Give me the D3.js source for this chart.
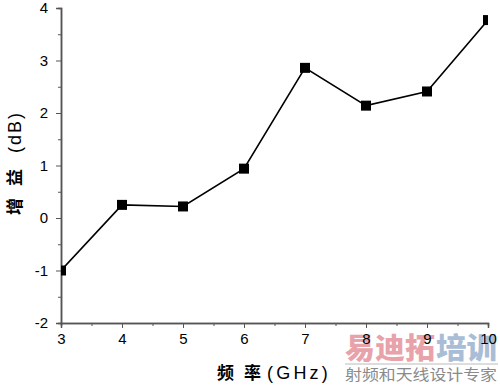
<!DOCTYPE html>
<html><head><meta charset="utf-8">
<script src="https://cdn.jsdelivr.net/npm/d3@7"></script>
<style>body{margin:0;background:#fff}svg{display:block}</style>
</head><body>
<svg id="c" width="500" height="386"></svg>
<script>
const freq = [3, 4, 5, 6, 7, 8, 9, 10];
const gain = [-1.0, 0.25, 0.22, 0.94, 2.86, 2.14, 2.41, 3.77];
const xTicks = [3, 4, 5, 6, 7, 8, 9, 10];
const yTicks = [-2, -1, 0, 1, 2, 3, 4];

const svg = d3.select("#c");
const L = 61, R = 488, T = 8, B = 323;
const x = d3.scaleLinear().domain([3, 10]).range([L, R]);
const y = d3.scaleLinear().domain([-2, 4]).range([B, T]);
const axisColor = "#555";
const font = "'Liberation Sans', Arial, sans-serif";
const cjk = "'Noto Sans CJK SC', sans-serif";
const fmt = d => String(d);

svg.append("defs").append("clipPath").attr("id", "clip")
  .append("rect").attr("x", L).attr("y", 0).attr("width", R - L).attr("height", B);

// watermark (behind everything)
const wm = svg.append("g");
wm.append("text").attr("x", 345).attr("y", 359).attr("textLength", 90).attr("lengthAdjust", "spacingAndGlyphs")
  .style("font-family", cjk).style("font-weight", "900").style("font-size", "29px")
  .attr("fill", "#e8a3aa").text("易迪拓");
wm.append("text").attr("x", 436).attr("y", 359).attr("textLength", 61).attr("lengthAdjust", "spacingAndGlyphs")
  .style("font-family", cjk).style("font-weight", "900").style("font-size", "29px")
  .attr("fill", "#a9bdd6").text("培训");
wm.append("line").attr("x1", 345).attr("x2", 498).attr("y1", 364).attr("y2", 364)
  .attr("stroke", "#bbb").attr("stroke-width", 1);
wm.append("text").attr("x", 345).attr("y", 380).attr("textLength", 152).attr("lengthAdjust", "spacingAndGlyphs")
  .style("font-family", cjk).style("font-size", "15px")
  .attr("fill", "#8a8a8a").text("射频和天线设计专家");

// axes with minor ticks
const minorX = d3.range(3.5, 10, 1);
const minorY = d3.range(-1.5, 4, 1);
const gx = svg.append("g").attr("transform", `translate(0,${B})`)
  .call(d3.axisBottom(x).tickValues(minorX).tickSize(3).tickFormat(""));
const gx2 = svg.append("g").attr("transform", `translate(0,${B})`)
  .call(d3.axisBottom(x).tickValues(xTicks).tickSize(5).tickPadding(5).tickFormat(fmt));
const gy = svg.append("g").attr("transform", `translate(${L},0)`)
  .call(d3.axisLeft(y).tickValues(minorY).tickSize(3).tickFormat(""));
const gy2 = svg.append("g").attr("transform", `translate(${L},0)`)
  .call(d3.axisLeft(y).tickValues(yTicks).tickSize(5).tickPadding(8).tickFormat(fmt));
[gx, gx2, gy, gy2].forEach(g => {
  g.select(".domain").attr("stroke", axisColor).attr("stroke-width", 1.5);
  g.selectAll(".tick line").attr("stroke", axisColor).attr("stroke-width", 1);
  g.selectAll("text").attr("fill", "#000").style("font-family", font).style("font-size", "15px");
});

// line and markers
const plot = svg.append("g").attr("clip-path", "url(#clip)");
const pts = freq.map((f, i) => [f, gain[i]]);
plot.append("path").datum(pts)
  .attr("d", d3.line().x(d => x(d[0])).y(d => y(d[1])))
  .attr("fill", "none").attr("stroke", "#000").attr("stroke-width", 1.6);
plot.selectAll("rect.m").data(pts).join("rect").attr("class", "m")
  .attr("x", d => x(d[0]) - 5).attr("y", d => y(d[1]) - 5)
  .attr("width", 10).attr("height", 10).attr("fill", "#000");

// axis titles
const xt = svg.append("text").attr("y", 379).attr("fill", "#000");
xt.append("tspan").attr("x", 217).style("font-family", cjk).style("font-size", "17px").style("font-weight", "bold").text("频");
xt.append("tspan").attr("x", 244).style("font-family", cjk).style("font-size", "17px").style("font-weight", "bold").text("率");
xt.append("tspan").attr("x", 267).style("font-family", font).style("font-size", "18px").style("letter-spacing", "3.2px").text("(GHz)");

const yt = svg.append("text").attr("transform", "translate(21,0) rotate(-90)").attr("fill", "#000");
yt.append("tspan").attr("x", -215).style("font-family", cjk).style("font-size", "17px").style("font-weight", "bold").text("增");
yt.append("tspan").attr("x", -186).style("font-family", cjk).style("font-size", "17px").style("font-weight", "bold").text("益");
yt.append("tspan").attr("x", -153).style("font-family", font).style("font-size", "18px").style("letter-spacing", "2px").text("(dB)");
</script>
</body></html>
